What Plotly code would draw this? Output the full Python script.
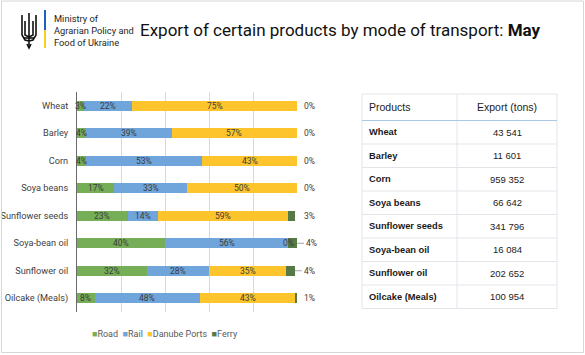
import plotly.graph_objects as go

W, H = 585, 355

categories = ["Wheat", "Barley", "Corn", "Soya beans", "Sunflower seeds",
              "Soya-bean oil", "Sunflower oil", "Oilcake (Meals)"]
road = [3, 4, 4, 17, 23, 40, 32, 8]
rail = [22, 39, 53, 33, 14, 56, 28, 48]
danube = [75, 57, 43, 50, 59, 0, 35, 43]
ferry = [0, 0, 0, 0, 3, 4, 4, 1]
exports = ["43 541", "11 601", "959 352", "66 642", "341 796", "16 084", "202 652", "100 954"]
table_header = ["Products", "Export (tons)"]

series = [("Road", road, "#76ae57"), ("Rail", rail, "#6fa5da"),
          ("Danube Ports", danube, "#fec42b"), ("Ferry", ferry, "#557a45")]

FONT = "Roboto, sans-serif"
TFONT = "Liberation Sans, Arial, sans-serif"


def px(x):
    return x / W


def py(y):
    return 1 - y / H


fig = go.Figure()
for name, vals, col in series:
    fig.add_trace(go.Bar(y=categories, x=vals, name=name, orientation="h",
                         marker=dict(color=col, line=dict(width=0)),
                         showlegend=False, hoverinfo="x+name"))

annotations = []
starts = [0] * len(categories)
for si, (name, vals, col) in enumerate(series):
    for i, c in enumerate(categories):
        v = vals[i]
        if si < 3:
            annotations.append(dict(x=starts[i] + v / 2, y=c, xref="x", yref="y",
                                    text=f"{v}%", showarrow=False,
                                    font=dict(family=FONT, size=8.5, color="#3b3b3b")))
        else:
            if v >= 4:
                annotations.append(dict(x=starts[i] + v, y=c, xref="x", yref="y",
                                        text=f"{v}%", showarrow=True, arrowhead=0,
                                        arrowwidth=0.8, arrowcolor="#8c8c8c",
                                        ax=7, ay=0, xanchor="left",
                                        font=dict(family=FONT, size=8.5, color="#3b3b3b")))
            else:
                annotations.append(dict(x=100, y=c, xref="x", yref="y",
                                        text=f"{v}%", showarrow=False, xanchor="left",
                                        xshift=5,
                                        font=dict(family=FONT, size=8.5, color="#3b3b3b")))
        starts[i] += v

# legend as annotation
leg = "  ".join(
    f"<span style='color:{col};font-size:9px'>■</span>{name}" for name, _, col in series)
annotations.append(dict(x=px(90), y=py(334), xref="paper", yref="paper", xanchor="left",
                        yanchor="middle", text=leg, showarrow=False,
                        font=dict(family=FONT, size=9, color="#595959")))

# header texts
annotations.append(dict(x=px(52), y=py(30.5), xref="paper", yref="paper", xanchor="left",
                        yanchor="middle", align="left", showarrow=False,
                        text="Ministry of<br>Agrarian Policy and<br>Food of Ukraine",
                        font=dict(family="Roboto", size=9.3, color="#1e1e1e")))
annotations.append(dict(x=px(138), y=py(30), xref="paper", yref="paper", xanchor="left",
                        yanchor="middle", showarrow=False,
                        text="Export of certain products by mode of transport: <b>May</b>",
                        font=dict(family="Roboto", size=17, color="#111111")))

# table (built from the data lists)
TL, TR, TD = 362, 557, 457
TTOP, HB, RH = 94, 120.5, 23.5
LINE = "#e1e5ea"
shapes = []
n = len(categories)
tbottom = HB + RH * n
shapes.append(dict(type="rect", xref="paper", yref="paper", x0=px(TL), x1=px(TR),
                   y0=py(tbottom), y1=py(TTOP), line=dict(color=LINE, width=1)))
shapes.append(dict(type="line", xref="paper", yref="paper", x0=px(TD), x1=px(TD),
                   y0=py(tbottom), y1=py(TTOP), line=dict(color=LINE, width=1)))
for i in range(1, n):
    yy = HB + RH * i
    shapes.append(dict(type="line", xref="paper", yref="paper", x0=px(TL), x1=px(TR),
                       y0=py(yy), y1=py(yy), line=dict(color=LINE, width=1)))
shapes.append(dict(type="line", xref="paper", yref="paper", x0=px(TL), x1=px(TR),
                   y0=py(HB), y1=py(HB), line=dict(color="#a9c8e6", width=1)))
hy = (TTOP + HB) / 2
annotations.append(dict(x=px(TL + 5), y=py(hy), xref="paper", yref="paper", xanchor="left",
                        yanchor="middle", showarrow=False, text=table_header[0],
                        font=dict(family=TFONT, size=10.5, color="#222222")))
annotations.append(dict(x=px((TD + TR) / 2), y=py(hy), xref="paper", yref="paper",
                        xanchor="center", yanchor="middle", showarrow=False,
                        text=table_header[1],
                        font=dict(family=TFONT, size=10.5, color="#222222")))
for i, (c, e) in enumerate(zip(categories, exports)):
    cy = HB + RH * (i + 0.5)
    annotations.append(dict(x=px(TL + 5), y=py(cy), xref="paper", yref="paper",
                            xanchor="left", yanchor="middle", showarrow=False,
                            text=f"<b>{c}</b>",
                            font=dict(family=TFONT, size=9.3, color="#1a1a1a")))
    annotations.append(dict(x=px((TD + TR) / 2), y=py(cy), xref="paper", yref="paper",
                            xanchor="center", yanchor="middle", showarrow=False, text=e,
                            font=dict(family=TFONT, size=9.5, color="#222222")))


def path(points, close=False):
    s = "M " + " L ".join(f"{px(x):.5f},{py(y):.5f}" for x, y in points)
    return s + (" Z" if close else "")


shapes += [
    dict(type="rect", xref="paper", yref="paper", x0=px(1.5), x1=px(583.5), y0=py(352.5),
         y1=py(1), line=dict(color="#d6d6d6", width=1)),
    dict(type="line", xref="paper", yref="paper", x0=px(45), x1=px(45), y0=py(10), y1=py(30),
         line=dict(color="#1f5fbf", width=2)),
    dict(type="line", xref="paper", yref="paper", x0=px(45), x1=px(45), y0=py(30), y1=py(48),
         line=dict(color="#f5d020", width=2)),
]
trident = [
    [(22, 15), (22, 35), (25, 40), (29, 41)],
    [(36, 15), (36, 35), (33, 40), (29, 41)],
    [(29, 13), (29, 48)],
    [(25, 21), (25, 35), (29, 37)],
    [(33, 21), (33, 35), (29, 37)],
    [(24, 38), (34, 38)],
    [(27, 44), (29, 48), (31, 44)],
]
for pts in trident:
    shapes.append(dict(type="path", xref="paper", yref="paper", path=path(pts),
                       line=dict(color="#111111", width=1.6)))

fig.update_layout(
    width=W, height=H, margin=dict(l=0, r=0, t=0, b=0),
    paper_bgcolor="white", plot_bgcolor="white",
    barmode="stack", bargap=0.64,
    xaxis=dict(domain=[px(77), px(297)], range=[0, 100], showticklabels=False,
               showgrid=True, gridcolor="#d9d9d9", gridwidth=1, dtick=20, zeroline=False,
               fixedrange=True, automargin=False),
    yaxis=dict(domain=[py(312), py(92)], autorange="reversed", showline=True,
               linecolor="#6b6b6b", linewidth=1, ticks="", ticklabelstandoff=6,
               automargin=False,
               tickfont=dict(family=FONT, size=9.2, color="#3f3f3f"), fixedrange=True),
    annotations=annotations, shapes=shapes,
)

fig.write_html("out.html", config={"displayModeBar": False},
               post_script="document.body.style.margin='0';")
